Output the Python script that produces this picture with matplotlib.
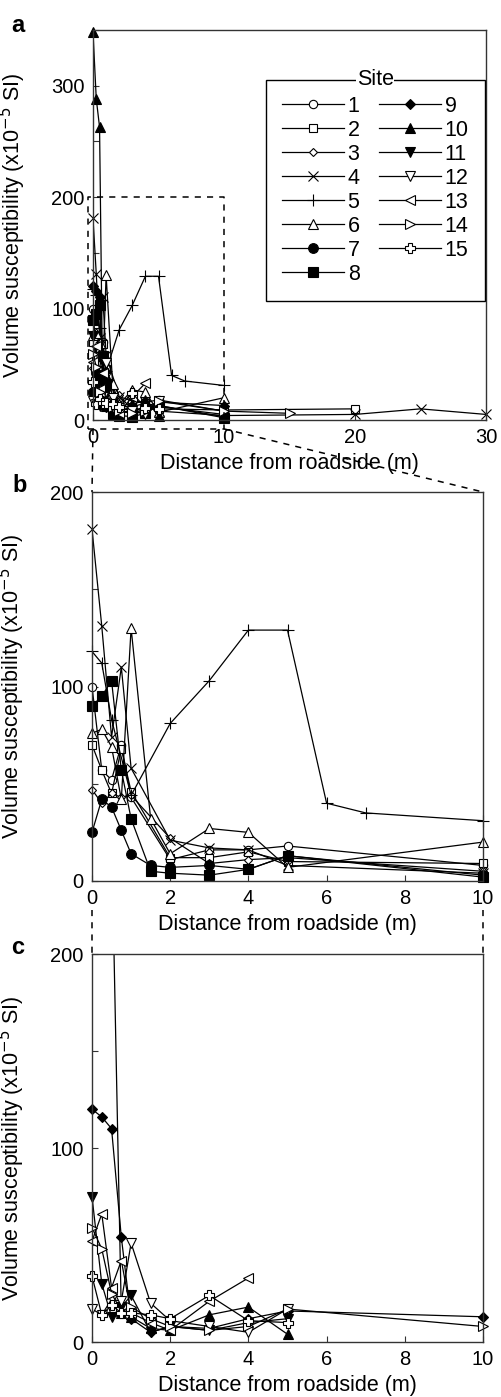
import matplotlib
matplotlib.use('Agg')
import matplotlib.pyplot as plt
from matplotlib.ticker import MultipleLocator
from matplotlib.lines import Line2D

plt.rcParams['font.family'] = ['Liberation Sans', 'DejaVu Sans']

# ---------------------------------------------------------#
# Data: distance from roadside (m) and volume              #
# susceptibility (x10^-5 SI) for each site                 #
# ---------------------------------------------------------#
site1_d  = [0, 0.25, 0.5, 0.75, 1, 2, 3, 4, 5, 10]
site1_v  = [100, 57, 52, 70, 43, 11, 16, 16, 18, 8]
site2_d  = [0, 0.25, 0.5, 0.75, 1, 2, 3, 4, 5, 10, 20]
site2_v  = [70, 57, 45, 68, 46, 12, 12, 15, 10, 9, 10]
site3_d  = [0, 0.25, 0.5, 0.75, 1, 2, 3, 4, 5, 10]
site3_v  = [47, 40, 45, 43, 44, 22, 9, 11, 12, 5]
site4_d  = [0, 0.25, 0.5, 0.75, 1, 2, 3, 4, 5, 10, 20, 25, 30]
site4_v  = [181, 131, 74, 110, 58, 21, 17, 16, 8, 4, 5, 10, 5]
site5_d  = [0, 0.25, 0.5, 1, 2, 3, 4, 5, 6, 7, 10]
site5_v  = [118, 112, 83, 44, 81, 103, 129, 129, 40, 35, 31]
site6_d  = [0, 0.25, 0.5, 0.75, 1, 1.5, 2, 3, 4, 5, 10]
site6_v  = [76, 78, 69, 42, 130, 32, 14, 27, 25, 7, 20]
site7_d  = [0, 0.25, 0.5, 0.75, 1, 1.5, 2, 3, 4, 5, 10]
site7_v  = [25, 42, 38, 26, 14, 8, 7, 8, 6, 13, 3]
site8_d  = [0, 0.25, 0.5, 0.75, 1, 1.5, 2, 3, 4, 5, 10]
site8_v  = [90, 95, 103, 57, 32, 5, 4, 3, 6, 13, 2]
site9_d  = [0, 0.25, 0.5, 0.75, 1, 1.5, 2, 3, 4, 5, 10]
site9_v  = [120, 116, 110, 54, 12, 5, 8, 7, 12, 16, 13]
site10_d = [0, 0.25, 0.5, 0.75, 1, 1.5, 2, 3, 4, 5]
site10_v = [348, 288, 263, 15, 13, 7, 6, 14, 18, 4]
site11_d = [0, 0.25, 0.5, 0.75, 1, 1.5, 2, 3, 4, 5]
site11_v = [75, 30, 13, 18, 24, 5, 8, 6, 10, 12]
site12_d = [0, 0.25, 0.5, 0.75, 1, 1.5, 2, 3, 4, 5]
site12_v = [17, 14, 22, 21, 51, 20, 11, 8, 5, 17]
site13_d = [0, 0.25, 0.5, 0.75, 1, 1.5, 2, 3, 4]
site13_v = [52, 66, 28, 42, 15, 10, 6, 21, 33]
site14_d = [0, 0.25, 0.5, 0.75, 1, 1.5, 2, 3, 4, 5, 10, 15]
site14_v = [59, 48, 25, 16, 18, 12, 8, 6, 8, 17, 8, 6]
site15_d = [0, 0.25, 0.5, 0.75, 1, 1.5, 2, 3, 4, 5]
site15_v = [34, 14, 19, 15, 15, 14, 12, 24, 11, 10]

site_labels = [str(i) for i in range(1, 16)]
dists = [site1_d, site2_d, site3_d, site4_d, site5_d, site6_d, site7_d, site8_d,
         site9_d, site10_d, site11_d, site12_d, site13_d, site14_d, site15_d]
vals  = [site1_v, site2_v, site3_v, site4_v, site5_v, site6_v, site7_v, site8_v,
         site9_v, site10_v, site11_v, site12_v, site13_v, site14_v, site15_v]

zoom_window = (0, 10, 0, 200)   # region of panel a shown in b and c

# ---------------------------------------------------------#
# Marker styles (marker, face, size)                       #
# ---------------------------------------------------------#
styles = [('o', 'white', 6), ('s', 'white', 6), ('D', 'white', 4.5),
          ('x', 'black', 7), ('+', 'black', 8.5), ('^', 'white', 6.5),
          ('o', 'black', 7), ('s', 'black', 7.5), ('D', 'black', 5),
          ('^', 'black', 6.5), ('v', 'black', 6.5), ('v', 'white', 6.5),
          ('<', 'white', 6.5), ('>', 'white', 6.5), ('P', 'white', 6.5)]

font_tick  = 14.5
font_label = 15.5
ylab = r'Volume susceptibility (x10$^{-5}$ SI)'
xlab = 'Distance from roadside (m)'

W, H = 501, 1397
fig = plt.figure(figsize=(W / 100, H / 100), dpi=100)

def box(l, r, t, b):
    return [l / W, 1 - b / H, (r - l) / W, (b - t) / H]

ax_a = fig.add_axes(box(93, 486, 30, 420))
ax_b = fig.add_axes(box(92, 483, 492, 881))
ax_c = fig.add_axes(box(92, 483, 954, 1342))

def draw_sites(ax, idx, xmax, ymax):
    handles = []
    for i in idx:
        m, fc, ms = styles[i]
        # connecting line, clipped to the axes
        ax.plot(dists[i], vals[i], color='black', lw=0.9)
        # markers for the points inside the view, not clipped at the frame
        d = [x for x, y in zip(dists[i], vals[i]) if x <= xmax and y <= ymax]
        v = [y for x, y in zip(dists[i], vals[i]) if x <= xmax and y <= ymax]
        ax.plot(d, v, ls='none', marker=m, ms=ms, mfc=fc, mec='black',
                mew=0.8, clip_on=False)
        handles.append(Line2D([], [], color='black', lw=0.9, marker=m, ms=ms,
                              mfc=fc, mec='black', mew=0.8,
                              label=site_labels[i]))
    return handles

handles = draw_sites(ax_a, range(15), 30, 350)
draw_sites(ax_b, range(8), 10, 200)
draw_sites(ax_c, range(8, 15), 10, 200)

def style_axes(ax, xmax, ymax, xstep, ymaj):
    ax.set_xlim(0, xmax)
    ax.set_ylim(0, ymax)
    ax.xaxis.set_major_locator(MultipleLocator(xstep))
    ax.yaxis.set_major_locator(MultipleLocator(ymaj))
    ax.yaxis.set_minor_locator(MultipleLocator(50))
    ax.tick_params(which='both', direction='in', length=4.5, width=0.8,
                   labelsize=font_tick, pad=6, color='#333333')
    for s in ax.spines.values():
        s.set_color('#333333')
        s.set_linewidth(1.0)
    ax.set_xlabel(xlab, fontsize=font_label, labelpad=4)
    ax.set_ylabel(ylab, fontsize=font_label)
    ax.yaxis.set_label_coords(-0.165, 0.5)

style_axes(ax_a, 30, 350, 10, 100)
style_axes(ax_b, 10, 200, 2, 100)
style_axes(ax_c, 10, 200, 2, 100)
ax_a.set_yticks([0, 100, 200, 300])

# legend
leg = ax_a.legend(handles=handles, ncol=2, loc='upper right',
                  bbox_to_anchor=(0.997, 0.873), borderaxespad=0,
                  fontsize=font_label, numpoints=1, handlelength=2.9,
                  handletextpad=0.15, columnspacing=0.9, labelspacing=0.14,
                  borderpad=0.75, fancybox=False, framealpha=1,
                  edgecolor='black')
leg.get_frame().set_linewidth(1.0)

# dashed zoom box on panel a
x0, x1, y0, y1 = zoom_window
dash = (0, (4, 4))
ax_a.plot([x0 - 0.35, x1, x1, x0 - 0.35, x0 - 0.35],
          [y0 - 8, y0 - 8, y1, y1, y0 - 8],
          ls=dash, color='black', lw=1.1, clip_on=False)

# dashed connectors between panels (figure coordinates)
to_fig = fig.transFigure.inverted()
def connect(axA, pA, axB, pB):
    a = to_fig.transform(axA.transData.transform(pA))
    b = to_fig.transform(axB.transData.transform(pB))
    fig.add_artist(Line2D([a[0], b[0]], [a[1], b[1]], ls=dash, lw=1.1,
                          color='black', transform=fig.transFigure))

connect(ax_a, (x0, y0 - 8), ax_b, (x0, y1))
connect(ax_a, (x1, y0 - 8), ax_b, (x1, y1))
connect(ax_b, (x0, y0 - 15), ax_c, (x0, y1))
connect(ax_b, (x1, y0 - 15), ax_c, (x1, y1))

# panel letters
for lab, (px, py) in zip(['a', 'b', 'c'], [(18, 25), (20, 485), (18, 947)]):
    fig.text(px / W, 1 - py / H, lab, fontsize=17, weight='bold',
             ha='center', va='center')

# "Site" title sitting on the legend frame
fig.canvas.draw()
bb = leg.get_frame().get_window_extent().transformed(fig.transFigure.inverted())
fig.text((bb.x0 + bb.x1) / 2, bb.y1, 'Site', fontsize=font_label,
         ha='center', va='center',
         bbox=dict(facecolor='white', edgecolor='none', pad=0.5))

fig.savefig('out.png', dpi=100)
